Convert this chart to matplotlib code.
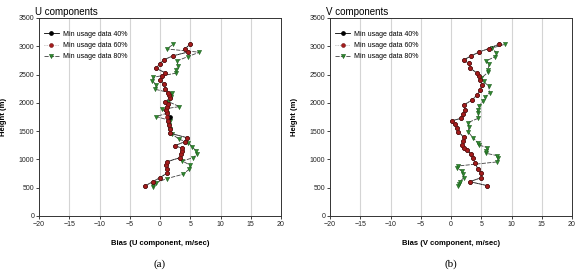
import matplotlib
matplotlib.use("Agg")
from matplotlib import pyplot as plt

plt.rcParams['font.family'] = ['Liberation Sans', 'DejaVu Sans']

# --- U component data (bias m/sec vs height m) ---
u_h40 = [530, 606, 677, 755, 825, 896, 960, 1031, 1100, 1149, 1197, 1243, 1314, 1385, 1462, 1540, 1610, 1685, 1750, 1816,
         1870, 1922, 1975, 2021, 2080, 2130, 2180, 2250, 2334, 2405, 2470, 2534, 2611, 2690, 2758, 2829, 2900, 2960, 3041]
u_x40 = [-2.5, -1.2, 0.0, 1.1, 1.1, 1.0, 1.2, 3.3, 3.5, 3.6, 3.6, 2.5, 4.1, 4.4, 1.7, 1.6, 1.5, 1.4, 1.6, 1.2,
         1.0, 1.1, 1.3, 0.8, 1.7, 1.5, 1.4, 0.9, 0.6, 0.0, 0.4, 0.8, -0.7, 0.0, 0.6, 2.1, 4.7, 4.2, 5.0]
u_h60 = u_h40
u_x60 = [-2.5, -1.2, 0.0, 1.1, 1.1, 1.0, 1.2, 3.3, 3.5, 3.6, 3.6, 2.5, 4.1, 4.4, 1.7, 1.6, 1.5, 1.4, 1.2, 1.2,
         1.0, 1.1, 1.3, 0.8, 1.7, 1.5, 1.4, 0.9, 0.6, 0.0, 0.4, 0.8, -0.7, 0.0, 0.6, 2.1, 4.7, 4.2, 5.0]
u_h80 = [508, 543, 589, 660, 737, 825, 896, 972, 1031, 1090, 1149, 1220, 1296, 1360, 1450, 1530, 1610, 1685, 1757, 1815,
         1886, 1933, 2020, 2099, 2169, 2240, 2316, 2392, 2452, 2523, 2582, 2658, 2740, 2817, 2894, 2952, 3035]
u_x80 = [-1.1, -1.1, -0.6, 1.1, 3.8, 4.8, 5.0, 3.7, 5.5, 6.1, 6.0, 5.3, 4.7, 3.1, 2.0, 1.6, 1.5, 1.7, -0.6, 1.1,
         0.4, 3.2, 1.4, 1.8, 1.9, -0.8, -0.6, -1.3, -1.1, 2.6, 2.7, 3.0, 2.8, 4.6, 6.5, 1.1, 2.2]

# --- V component data ---
v_h40 = [536, 606, 677, 766, 836, 931, 1020, 1100, 1167, 1210, 1255, 1320, 1392, 1490, 1560, 1630, 1685, 1727, 1810, 1874,
         1962, 2051, 2139, 2228, 2316, 2405, 2470, 2523, 2611, 2699, 2758, 2829, 2900, 2958, 3041]
v_x40 = [6.0, 3.1, 5.0, 5.0, 4.4, 4.0, 3.6, 3.3, 2.6, 2.2, 1.8, 2.0, 2.1, 1.2, 1.0, 0.7, 0.2, 1.7, 2.0, 2.3,
         2.1, 3.5, 4.3, 4.8, 5.1, 4.8, 4.6, 4.3, 3.2, 2.9, 2.1, 3.3, 4.7, 6.2, 8.0]
v_h60 = v_h40
v_x60 = [6.0, 3.1, 5.0, 5.0, 4.4, 4.0, 3.6, 3.3, 2.6, 2.2, 1.8, 2.0, 2.1, 1.2, 1.0, 0.7, 0.2, 1.7, 2.0, 2.3,
         2.1, 3.5, 4.3, 4.8, 5.1, 4.8, 4.6, 4.3, 3.2, 2.9, 2.1, 3.3, 4.7, 6.2, 8.0]
v_h80 = [530, 560, 607, 678, 737, 795, 843, 884, 955, 1020, 1067, 1108, 1149, 1208, 1255, 1296, 1385, 1490, 1570, 1650,
         1727, 1815, 1874, 1945, 2028, 2099, 2180, 2290, 2380, 2435, 2540, 2582, 2688, 2740, 2817, 2888, 2965, 3035]
v_x80 = [1.2, 1.3, 1.5, 2.1, 2.0, 1.8, 1.0, 1.2, 7.6, 7.8, 7.6, 5.8, 5.8, 6.0, 4.6, 4.4, 3.6, 2.8, 3.0, 2.8,
         4.5, 4.5, 4.4, 4.6, 5.3, 5.6, 6.4, 6.2, 5.4, 5.0, 6.1, 6.1, 6.3, 5.8, 7.3, 7.5, 6.7, 8.9]

labels = ["Min usage data 40%", "Min usage data 60%", "Min usage data 80%"]
xticks = [-20, -15, -10, -5, 0, 5, 10, 15, 20]
yticks = [0, 500, 1000, 1500, 2000, 2500, 3000, 3500]

red = "#a51c1c"
green = "#2f8a2f"

fig = plt.figure(figsize=(5.78, 2.72), dpi=100)
ax_u = fig.add_axes([0.0675, 0.206, 0.4187, 0.728])
ax_v = fig.add_axes([0.571, 0.206, 0.4187, 0.728])


def draw_panel(ax, series, title, xlabel, tag):
    (h40, x40), (h60, x60), (h80, x80) = series
    ax.plot(x80, h80, color="#404040", lw=0.6, dashes=(5, 1.5), marker="v", ms=3.0,
            mfc=green, mec="#1d5e1d", mew=0.4, label=labels[2], zorder=3)
    ax.plot(x40, h40, color="black", lw=0.6, marker="o", ms=2.4, mfc="black", mec="black",
            label=labels[0], zorder=4)
    ax.plot(x60, h60, color="#999999", lw=0.6, ls=":", marker="o", ms=2.8,
            mfc=red, mec="#6e1010", mew=0.4, label=labels[1], zorder=5)

    ax.set_xlim(-20, 20)
    ax.set_ylim(0, 3500)
    ax.set_xticks(xticks)
    ax.set_yticks(yticks)
    ax.tick_params(labelsize=5, length=2, width=0.6, pad=1.5, colors="#222222")
    for x in xticks[1:-1]:
        ax.axvline(x, color="#d4d4d4", lw=0.8, zorder=0)
    for s in ax.spines.values():
        s.set_linewidth(0.7)
        s.set_color("#333333")

    ax.set_title(title, loc="left", fontsize=7, pad=2, x=-0.015)
    ax.set_xlabel(xlabel, fontsize=5.5, fontweight="bold", labelpad=9)
    ax.set_ylabel("Height (m)", fontsize=5.5, fontweight="bold", labelpad=8)
    ax.text(0.5, -0.243, tag, transform=ax.transAxes, ha="center", va="center",
            fontsize=8, family=["Liberation Serif", "DejaVu Serif"])

    hs, ls = ax.get_legend_handles_labels()
    order = [1, 2, 0]
    ax.legend([hs[i] for i in order], [ls[i] for i in order], loc="upper left",
              bbox_to_anchor=(0.02, 0.935), frameon=False, fontsize=5,
              handlelength=2.2, handletextpad=0.5, labelspacing=0.6, borderpad=0,
              borderaxespad=0)


draw_panel(ax_u, [(u_h40, u_x40), (u_h60, u_x60), (u_h80, u_x80)],
           "U components", "Bias (U component, m/sec)", "(a)")
draw_panel(ax_v, [(v_h40, v_x40), (v_h60, v_x60), (v_h80, v_x80)],
           "V components", "Bias (V component, m/sec)", "(b)")

fig.savefig("out.png", dpi=100)
